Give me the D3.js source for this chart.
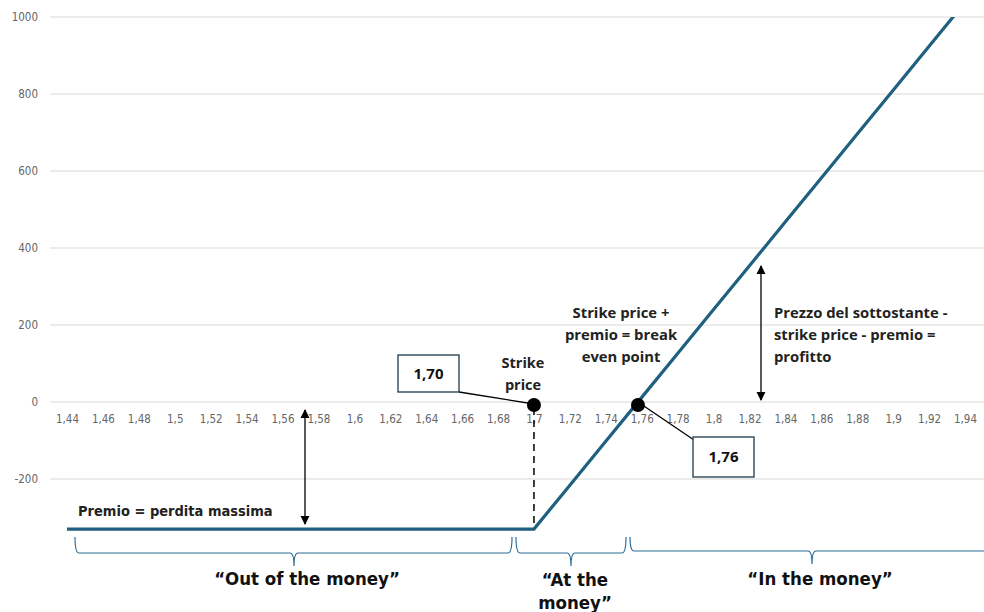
<!DOCTYPE html>
<html><head><meta charset="utf-8">
<script src="https://cdn.jsdelivr.net/npm/d3@7/dist/d3.min.js"></script>
<style>
html,body{margin:0;padding:0;background:#fff;}
svg{display:block;}
.tick text{font-family:"Liberation Sans Narrow","DejaVu Sans Condensed",Lato,sans-serif;}
</style></head>
<body>
<svg id="c" width="984" height="612"></svg>
<script>
const categories = ["1,44","1,46","1,48","1,5","1,52","1,54","1,56","1,58","1,6","1,62","1,64","1,66","1,68","1,7","1,72","1,74","1,76","1,78","1,8","1,82","1,84","1,86","1,88","1,9","1,92","1,94"];
const profit = [-330,-330,-330,-330,-330,-330,-330,-330,-330,-330,-330,-330,-330,-330,-216,-102,12,126,240,354,468,582,696,810,924,1038];
const yTicks = [-200,0,200,400,600,800,1000];
const yTickLabels = ["-200","0","200","400","600","800","1000"];

const svg = d3.select("#c");
const W = 984, H = 612;
const x = d3.scalePoint().domain(categories).range([67,965]);
const y = d3.scaleLinear().domain([-400,1000]).range([556,17]);

const lineColor = "#1f5f7f";
const txtFont = "'Liberation Sans Narrow','DejaVu Sans Condensed',Lato,sans-serif";
const boldFont = "'Open Sans',Lato,sans-serif";

// defs
const defs = svg.append("defs");
defs.append("clipPath").attr("id","plot").append("rect")
  .attr("x",0).attr("y",y(1000)).attr("width",W).attr("height",H);
defs.append("marker").attr("id","ah").attr("viewBox","0 0 10 10")
  .attr("refX",9).attr("refY",5).attr("markerWidth",7).attr("markerHeight",7)
  .attr("orient","auto-start-reverse")
  .append("path").attr("d","M0,0 L10,5 L0,10 z").attr("fill","#000");

// gridlines
svg.append("g").selectAll("line").data(yTicks).join("line")
  .attr("x1",50).attr("x2",W).attr("y1",d=>y(d)).attr("y2",d=>y(d))
  .attr("stroke","#d9d9d9").attr("stroke-width",1);

// y labels
const yAxis = d3.axisLeft(y).tickValues(yTicks).tickSize(0).tickPadding(0)
  .tickFormat((d,i)=>yTickLabels[i]);
const gy = svg.append("g").attr("transform","translate(38,0)").call(yAxis);
gy.select(".domain").remove();
gy.selectAll("text").attr("fill","#666").attr("font-size",11.5);

// x labels
const xAxis = d3.axisBottom(x).tickSize(0).tickPadding(0);
const gx = svg.append("g").attr("transform",`translate(0,${y(0)+13})`).call(xAxis);
gx.select(".domain").remove();
gx.selectAll("text").attr("fill","#666").attr("font-size",11.5);

// main line
const line = d3.line().x((d,i)=>x(categories[i])).y(d=>y(d));
svg.append("path").datum(profit).attr("d",line)
  .attr("fill","none").attr("stroke",lineColor).attr("stroke-width",3.2)
  .attr("clip-path","url(#plot)");

// strike & break-even positions
const iK = categories.indexOf("1,7");
const xK = x(categories[iK]);
let xBE = null;
for (let i=0;i<profit.length-1;i++){
  if (profit[i] < 0 && profit[i+1] >= 0){
    const t = -profit[i]/(profit[i+1]-profit[i]);
    xBE = x(categories[i]) + t*(x(categories[i+1])-x(categories[i]));
  }
}
const y0 = y(0);

// dashed vertical from strike dot
svg.append("line").attr("x1",xK).attr("x2",xK).attr("y1",y0+6).attr("y2",y(profit[iK])-2)
  .attr("stroke","#000").attr("stroke-width",1.5).attr("stroke-dasharray","7,5");

// connectors
svg.append("line").attr("x1",459).attr("y1",392).attr("x2",xK).attr("y2",y0+2)
  .attr("stroke","#000").attr("stroke-width",1.3);
svg.append("line").attr("x1",xBE).attr("y1",y0).attr("x2",694).attr("y2",440)
  .attr("stroke","#000").attr("stroke-width",1.3);

// dots
svg.append("circle").attr("cx",xK).attr("cy",y0+3).attr("r",7).attr("fill","#000");
svg.append("circle").attr("cx",xBE).attr("cy",y0+3).attr("r",7).attr("fill","#000");

// boxes
function box(x0,y0b,w,h,label){
  svg.append("rect").attr("x",x0).attr("y",y0b).attr("width",w).attr("height",h)
    .attr("fill","#fff").attr("stroke","#1e3a4c").attr("stroke-width",1.3);
  svg.append("text").attr("x",x0+w/2).attr("y",y0b+h/2+5).attr("text-anchor","middle")
    .attr("font-family",boldFont).attr("font-weight","bold").attr("font-size",15).attr("fill","#111").text(label);
}
box(398,355,61,37,"1,70");
box(693,437,61,40,"1,76");

// multi-line text helper
function mtext(xp, yp, lines, anchor, size, dy){
  const t = svg.append("text").attr("x",xp).attr("y",yp).attr("text-anchor",anchor)
    .attr("font-family",boldFont).attr("font-weight","bold").attr("font-size",size).attr("fill","#222");
  lines.forEach((l,i)=>t.append("tspan").attr("x",xp).attr("dy",i===0?0:dy).text(l));
}
mtext(523,368,["Strike","price"],"middle",14.5,22);
mtext(621,318,["Strike price +","premio = break","even point"],"middle",14.8,22);
mtext(774,318,["Prezzo del sottostante -","strike price - premio =","profitto"],"start",14.8,22);

// double arrows
svg.append("line").attr("x1",761).attr("x2",761).attr("y1",266).attr("y2",400)
  .attr("stroke","#000").attr("stroke-width",1.3)
  .attr("marker-start","url(#ah)").attr("marker-end","url(#ah)");
svg.append("line").attr("x1",305).attr("x2",305).attr("y1",410).attr("y2",524)
  .attr("stroke","#000").attr("stroke-width",1.3)
  .attr("marker-start","url(#ah)").attr("marker-end","url(#ah)");

// premio label
svg.append("text").attr("x",78).attr("y",516).attr("font-family",txtFont).attr("font-weight","bold")
  .attr("font-size",14.5).attr("fill","#222").text("Premio = perdita massima");

// braces
function brace(x1,x2,xm,yt,yh,yb){
  const r=4;
  const p = `M${x1},${yt} Q${x1},${yh} ${x1+r},${yh} L${xm-r},${yh} Q${xm},${yh} ${xm},${yb} Q${xm},${yh} ${xm+r},${yh} L${x2-r},${yh} Q${x2},${yh} ${x2},${yt}`;
  svg.append("path").attr("d",p).attr("fill","none").attr("stroke","#2e6f9a").attr("stroke-width",1.2);
}
brace(75,512,294,537,553,566);
brace(516,626,571,537,553,566);
brace(630,990,812,537,551,564);

// region labels
const regFont = "'Liberation Sans Narrow','DejaVu Sans Condensed',Lato,sans-serif";
function rlab(xp,yp,lines){
  const t = svg.append("text").attr("x",xp).attr("y",yp).attr("text-anchor","middle")
    .attr("font-family",regFont).attr("font-weight","bold").attr("font-size",18.5).attr("fill","#111");
  lines.forEach((l,i)=>t.append("tspan").attr("x",xp).attr("dy",i===0?0:23).text(l));
}
rlab(307,585,["\u201cOut of the money\u201d"]);
rlab(575,586,["\u201cAt the","money\u201d"]);
rlab(820,585,["\u201cIn the money\u201d"]);
</script>
</body></html>
